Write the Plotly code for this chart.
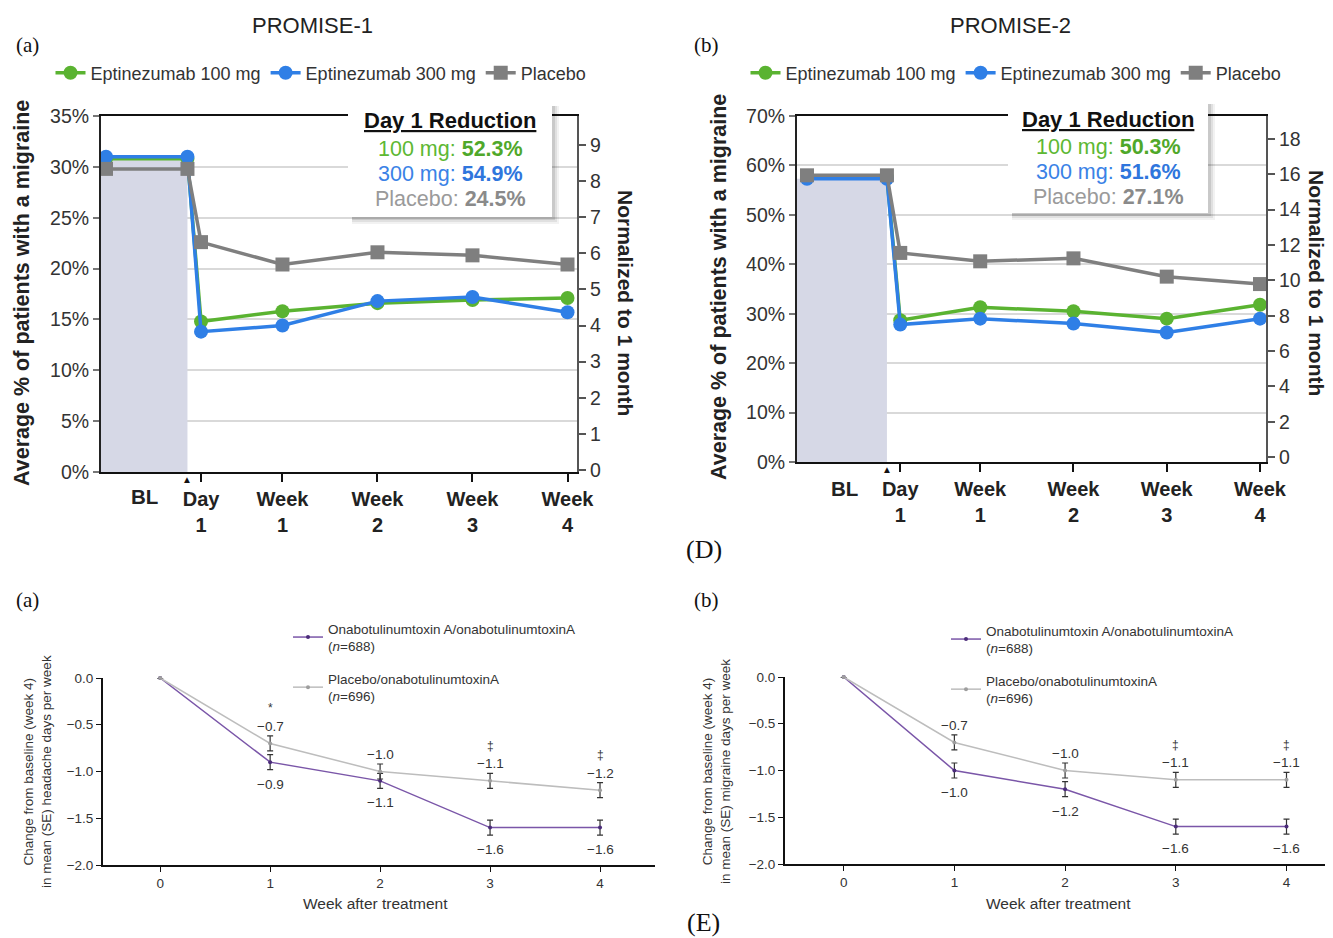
import plotly.graph_objects as go

# page body has an 8px margin, so the figure is sized to end exactly at 1333x938
OFF = 8
W, H = 1333 - OFF, 938 - OFF

# ---------------- data : top panels (PROMISE-1 / PROMISE-2) ----------------
days = [-6, 0, 1, 7, 14, 21, 28]
tick_days = [1, 7, 14, 21, 28]
tick_labels = ["Day<br>1", "Week<br>1", "Week<br>2", "Week<br>3", "Week<br>4"]
series_names = ["Eptinezumab 100 mg", "Eptinezumab 300 mg", "Placebo"]

p1_100 = [30.8, 30.8, 14.8, 15.8, 16.6, 16.9, 17.1]
p1_300 = [31.0, 31.0, 13.8, 14.4, 16.8, 17.2, 15.7]
p1_pbo = [29.8, 29.8, 22.6, 20.4, 21.6, 21.3, 20.4]

p2_100 = [57.6, 57.6, 28.7, 31.3, 30.5, 29.0, 31.8]
p2_300 = [57.3, 57.3, 27.8, 29.0, 28.0, 26.2, 29.0]
p2_pbo = [58.0, 58.0, 42.3, 40.6, 41.2, 37.5, 36.0]

days_per_month = 28  # right axis: % of days x 28 = days per month

reduction_labels = ["100 mg: ", "300 mg: ", "Placebo: "]
p1_reduction = ["52.3%", "54.9%", "24.5%"]
p2_reduction = ["50.3%", "51.6%", "27.1%"]

# ---------------- data : bottom panels ----------------
weeks = [0, 1, 2, 3, 4]
bottom_names = ["Onabotulinumtoxin A/onabotulinumtoxinA<br>(<i>n</i>=688)",
                "Placebo/onabotulinumtoxinA<br>(<i>n</i>=696)"]
ona_hd = [0.0, -0.9, -1.1, -1.6, -1.6]
pbo_hd = [0.0, -0.7, -1.0, -1.1, -1.2]
ona_md = [0.0, -1.0, -1.2, -1.6, -1.6]
pbo_md = [0.0, -0.7, -1.0, -1.1, -1.1]
se_ona = [0.0, 0.08, 0.08, 0.08, 0.08]
se_pbo = [0.0, 0.08, 0.08, 0.08, 0.08]
sig_hd = ["", "*", "", "‡", "‡"]
sig_md = ["", "", "", "‡", "‡"]

# ---------------- styles ----------------
GREEN = "#5AB331"
BLUE = "#2F7FE6"
GREY = "#7F7F7F"
PURPLE = "#7A56A8"
LGREY = "#BDBDBD"
SANS = "Liberation Sans, Arial, sans-serif"
SERIF = "Liberation Serif, Times New Roman, serif"


def px(x):
    return (x - OFF) / W


def py(y):
    return 1 - (y - OFF) / H


fig = go.Figure()

# top traces
top_sets = [
    ("x", "y", "y2", "legend", [p1_100, p1_300, p1_pbo]),
    ("x2", "y3", "y4", "legend2", [p2_100, p2_300, p2_pbo]),
]
colors = [GREEN, BLUE, GREY]
symbols = ["circle", "circle", "square"]
for xa, ya, ya2, lg, vals in top_sets:
    for name, v, c, s in zip(series_names, vals, colors, symbols):
        fig.add_trace(go.Scatter(
            x=days, y=v, name=name, xaxis=xa, yaxis=ya, legend=lg,
            mode="lines+markers", line=dict(color=c, width=3.5),
            marker=dict(color=c, size=14, symbol=s), cliponaxis=False))
    # invisible copy on the secondary (days per month) axis so that it is drawn
    fig.add_trace(go.Scatter(
        x=days, y=[p * days_per_month / 100 for p in vals[2]], xaxis=xa, yaxis=ya2,
        mode="lines", line=dict(width=0, color="rgba(0,0,0,0)"), showlegend=False,
        hoverinfo="skip", opacity=0))

# bottom traces
bottom_sets = [
    ("x3", "y5", "legend3", ona_hd, pbo_hd, sig_hd),
    ("x4", "y6", "legend4", ona_md, pbo_md, sig_md),
]
for xa, ya, lg, ona, pbo, sig in bottom_sets:
    fig.add_trace(go.Scatter(
        x=weeks, y=ona, name=bottom_names[0], xaxis=xa, yaxis=ya, legend=lg,
        legendgroup="ona" + lg, mode="lines+markers",
        line=dict(color=PURPLE, width=1.5), marker=dict(color="#4B2C7A", size=4),
        error_y=dict(type="data", array=se_ona, color="#333333", thickness=1.2, width=3),
        cliponaxis=False))
    fig.add_trace(go.Scatter(
        x=weeks, y=pbo, name=bottom_names[1], xaxis=xa, yaxis=ya, legend=lg,
        legendgroup="pbo" + lg, mode="lines+markers",
        line=dict(color=LGREY, width=1.5), marker=dict(color="#9E9E9E", size=4),
        error_y=dict(type="data", array=se_pbo, color="#333333", thickness=1.2, width=3),
        cliponaxis=False))

annotations = []
shapes = []


def ann(**kw):
    d = dict(showarrow=False, xanchor="center", yanchor="middle")
    d.update(kw)
    annotations.append(d)


def fmt(v):
    return f"{v:.1f}".replace("-", "\u2212")


for xa, ya, lg, ona, pbo, sig in bottom_sets:
    for i in range(1, len(weeks)):
        ann(x=weeks[i], y=pbo[i], xref=xa, yref=ya, text=fmt(pbo[i]), yshift=17,
            font=dict(family=SANS, size=13.5, color="#333"))
        ann(x=weeks[i], y=ona[i], xref=xa, yref=ya, text=fmt(ona[i]), yshift=-22,
            font=dict(family=SANS, size=13.5, color="#333"))
        if sig[i]:
            ann(x=weeks[i], y=pbo[i], xref=xa, yref=ya, text=sig[i], yshift=35,
                font=dict(family=SANS, size=12, color="#333"))

# top panel decorations
top_panels = [
    dict(xa="x", ya="y", base=p1_300[1], left=-6.37, title="PROMISE-1", tx=312,
         box=(348, 552, 102, 217), red=p1_reduction, ly=293, lx=22, rx=625, ry=303,
         tri=479, bl=497),
    dict(xa="x2", ya="y3", base=p2_300[1], left=-6.75, title="PROMISE-2", tx=1010,
         box=(1008, 1208, 100, 213), red=p2_reduction, ly=287, lx=719, rx=1316, ry=283,
         tri=469, bl=488),
]
for tp in top_panels:
    shapes.append(dict(type="rect", xref=tp["xa"], yref=tp["ya"], x0=tp["left"], x1=0,
                       y0=0, y1=tp["base"], fillcolor="#D6D8E6", line=dict(width=0),
                       layer="between"))
    ann(x=0, y=py(tp["tri"]), xref=tp["xa"], yref="paper", text="▲",
        font=dict(size=10, color="#111"))
    ann(x=-3.2, y=py(tp["bl"]), xref=tp["xa"], yref="paper", text="<b>BL</b>",
        font=dict(family=SANS, size=20.5, color="#222"))
    ann(x=px(tp["tx"]), y=py(25), xref="paper", yref="paper", text=tp["title"],
        font=dict(family=SANS, size=22, color="#222"))
    ann(x=px(tp["lx"]), y=py(tp["ly"]), xref="paper", yref="paper",
        text="<b>Average % of patients with a migraine</b>", textangle=-90,
        font=dict(family=SANS, size=21.5, color="#222"))
    ann(x=px(tp["rx"]), y=py(tp["ry"]), xref="paper", yref="paper",
        text="<b>Normalized to 1 month</b>", textangle=90,
        font=dict(family=SANS, size=21, color="#222"))
    x0, x1, y0, y1 = tp["box"]
    for k, op in [(7, 0.05), (5, 0.07), (3, 0.10)]:
        shapes.append(dict(type="rect", xref="paper", yref="paper",
                           x0=px(x0 + 4), x1=px(x1 + k), y0=py(y1 + k), y1=py(y0 + 4),
                           fillcolor="#000000", opacity=op, line=dict(width=0), layer="above"))
    shapes.append(dict(type="rect", xref="paper", yref="paper",
                       x0=px(x0), x1=px(x1), y0=py(y1), y1=py(y0),
                       fillcolor="white", line=dict(width=0), layer="above"))
    cx = (x0 + x1) / 2
    ann(x=px(cx), y=py(y0 + 19), xref="paper", yref="paper",
        text="<b><u>Day 1 Reduction</u></b>", font=dict(family=SANS, size=22, color="#111"))
    tcol = ["#5DB833", "#3A82E6", "#9A9A9A"]
    ncol = ["#4FA82A", "#2F76DD", "#8A8A8A"]
    for j in range(3):
        ann(x=px(cx), y=py(y0 + 47 + 25 * j), xref="paper", yref="paper",
            text=f"<span style='color:{tcol[j]}'>{reduction_labels[j]}</span>"
                 f"<span style='color:{ncol[j]}'><b>{tp['red'][j]}</b></span>",
            font=dict(family=SANS, size=21.5))

# bottom panel titles
for lx, txt in [(37, "headache"), (716, "migraine")]:
    ann(x=px(lx), y=py(772), xref="paper", yref="paper", textangle=-90,
        text=f"Change from baseline (week 4)<br>in mean (SE) {txt} days per week",
        font=dict(family=SANS, size=13.5, color="#333"))
for xx in [375, 1058]:
    ann(x=px(xx), y=py(903), xref="paper", yref="paper", text="Week after treatment",
        font=dict(family=SANS, size=15.5, color="#333"))

# panel letters
for t, x, y, s in [("(a)", 27, 45, 21), ("(b)", 706, 45, 21), ("(D)", 704, 549, 26),
                   ("(a)", 27, 600, 21), ("(b)", 706, 600, 21), ("(E)", 703, 922, 26)]:
    ann(x=px(x), y=py(y), xref="paper", yref="paper", text=t,
        font=dict(family=SERIF, size=s, color="#111"))

tickfont_top = dict(family=SANS, size=19.5, color="#333")
xt_common = dict(tickvals=tick_days, ticktext=[f"<b>{t}</b>" for t in tick_labels],
                 tickfont=dict(family=SANS, size=20, color="#222"), ticks="outside",
                 ticklen=8, tickwidth=1.5, tickcolor="#111", showline=True, linecolor="#111",
                 linewidth=2, mirror=True, showgrid=False, zeroline=False, automargin=False)
yl_common = dict(showline=True, linecolor="#222", linewidth=2, showgrid=True,
                 gridcolor="#D9D9D9", gridwidth=1.5, zeroline=False, ticksuffix="%",
                 tickfont=tickfont_top, ticks="outside", ticklen=6, tickwidth=1.5,
                 tickcolor="#777", automargin=False)
yr_common = dict(showline=True, linecolor="#555", linewidth=2, showgrid=False, zeroline=False,
                 ticks="outside", ticklen=7, tickwidth=2, tickcolor="#555",
                 tickfont=tickfont_top, side="right", automargin=False)
xb_common = dict(tickvals=weeks, tickfont=dict(family=SANS, size=13.5, color="#333"),
                 ticks="outside", ticklen=5, tickcolor="#111", showline=True,
                 linecolor="#111", linewidth=2, showgrid=False, zeroline=False,
                 automargin=False)
yb_common = dict(tickvals=[0, -0.5, -1.0, -1.5, -2.0], tickformat=".1f",
                 tickfont=dict(family=SANS, size=13.5, color="#333"), ticks="outside",
                 ticklen=5, tickcolor="#111", showline=True, linecolor="#111", linewidth=2,
                 showgrid=False, zeroline=False, range=[-2.0, 0.0], automargin=False)

leg_top = dict(orientation="h", xanchor="center", yanchor="middle",
               font=dict(family=SANS, size=18, color="#333"), bgcolor="rgba(0,0,0,0)",
               itemclick=False)
leg_bot = dict(orientation="v", xanchor="left", yanchor="top", tracegroupgap=12,
               font=dict(family=SANS, size=13.5, color="#333"), bgcolor="rgba(0,0,0,0)",
               itemwidth=30)

fig.update_layout(
    width=W, height=H, margin=dict(l=0, r=0, t=0, b=0, autoexpand=False),
    paper_bgcolor="white", plot_bgcolor="white", showlegend=True,
    xaxis=dict(domain=[px(101), px(577)], range=[-6.37, 28.7], anchor="y", **xt_common),
    yaxis=dict(domain=[py(472), py(116)], range=[0, 35], dtick=5, anchor="x", **yl_common),
    yaxis2=dict(overlaying="y", anchor="x", range=[-0.055, 9.8], dtick=1, **yr_common),
    xaxis2=dict(domain=[px(797), px(1266)], range=[-6.75, 28.45], anchor="y3", **xt_common),
    yaxis3=dict(domain=[py(462), py(116)], range=[0, 70], dtick=10, anchor="x2", **yl_common),
    yaxis4=dict(overlaying="y3", anchor="x2", range=[-0.28, 19.3], dtick=2, **yr_common),
    xaxis3=dict(domain=[px(103), px(655)], range=[-0.52, 4.5], anchor="y5", **xb_common),
    yaxis5=dict(domain=[py(865), py(678)], anchor="x3", **yb_common),
    xaxis4=dict(domain=[px(785), 1.0], range=[-0.53, 4.42], anchor="y6", **xb_common),
    yaxis6=dict(domain=[py(864), py(677)], anchor="x4", **yb_common),
    legend=dict(x=px(321), y=py(73), **leg_top),
    legend2=dict(x=px(1016), y=py(73), **leg_top),
    legend3=dict(x=px(288), y=py(613), **leg_bot),
    legend4=dict(x=px(946), y=py(615), **leg_bot),
    annotations=annotations, shapes=shapes,
)

fig.write_html("out.html")
